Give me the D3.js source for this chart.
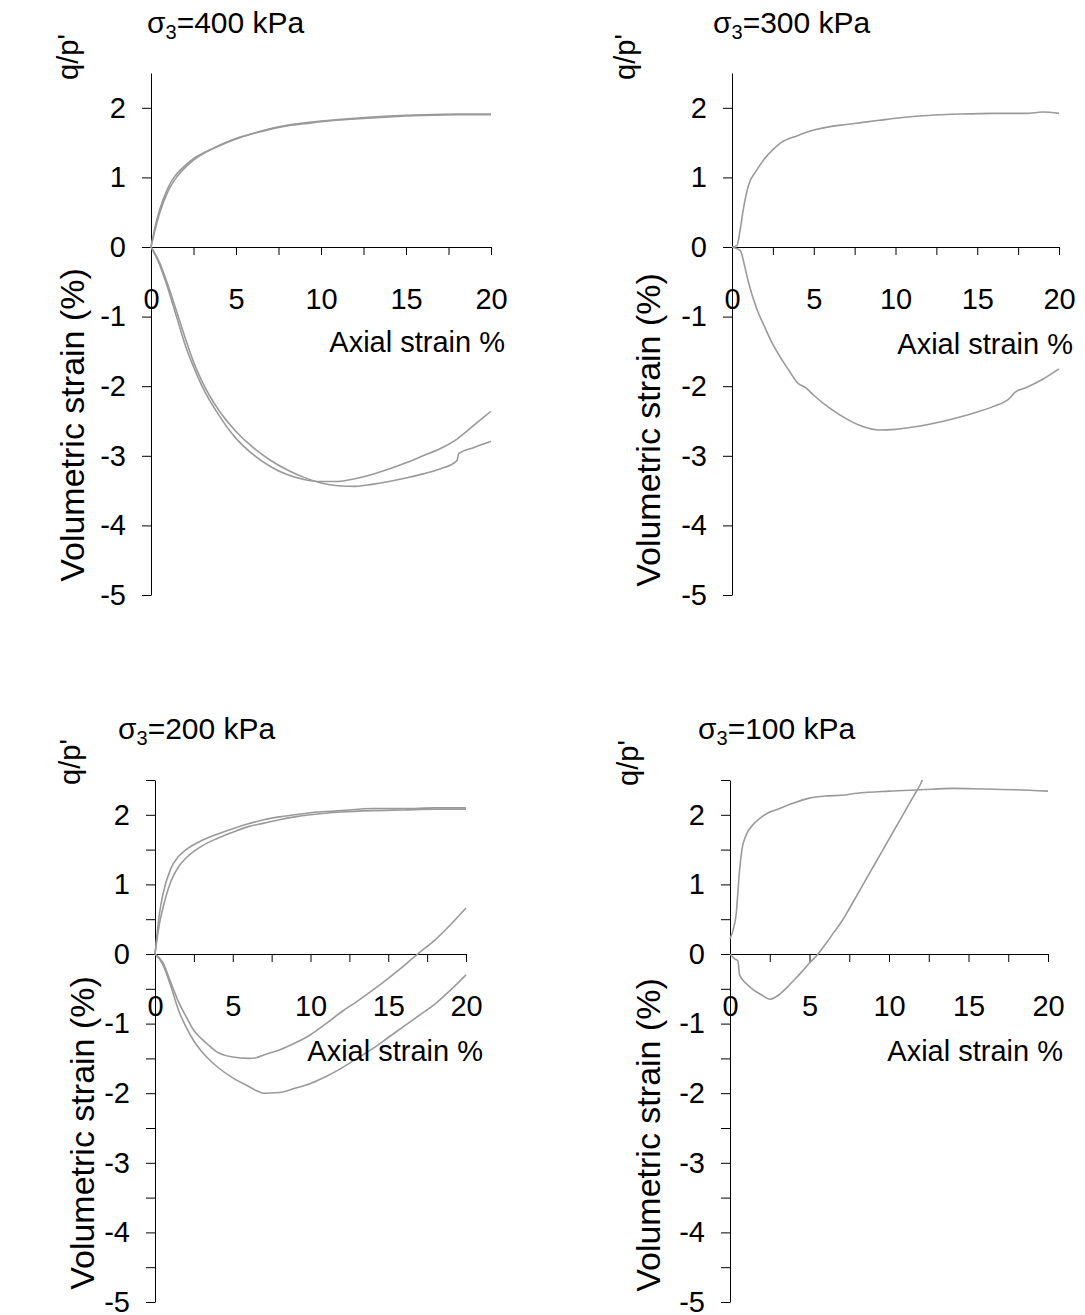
<!DOCTYPE html>
<html><head><meta charset="utf-8">
<script src="https://cdn.jsdelivr.net/npm/d3@7"></script>
<style>
body{margin:0;background:#fff}
svg{display:block}
text{font-family:"Liberation Sans",Arial,sans-serif;fill:#000}
</style>
</head><body>
<svg id="c" width="1085" height="1315"></svg>
<script>
// ---------------- data ----------------
const pressures = ["400", "300", "200", "100"];
const xMajorTicks = [0, 5, 10, 15, 20];
const yMajorTicks = [-5, -4, -3, -2, -1, 0, 1, 2];
const xLabel = "Axial strain %";
const qLabel = "q/p'";
const vLabel = "Volumetric strain (%)";

// sigma3 = 400 kPa
const s400_qA_x = [0, 0.25, 0.5, 1, 1.35, 2, 2.5, 3, 4, 5, 6, 7, 8, 9, 10, 12, 14, 16, 18, 20];
const s400_qA_y = [0, 0.3, 0.53, 0.85, 1.0, 1.17, 1.27, 1.34, 1.46, 1.56, 1.63, 1.69, 1.74, 1.77, 1.8, 1.84, 1.87, 1.89, 1.9, 1.9];
const s400_qB_x = [0, 0.5, 1, 1.5, 2, 2.5, 3, 4, 5, 6, 7, 8, 10, 12, 14, 16, 18, 20];
const s400_qB_y = [0, 0.48, 0.8, 1.0, 1.14, 1.25, 1.33, 1.45, 1.55, 1.63, 1.7, 1.75, 1.81, 1.85, 1.88, 1.9, 1.91, 1.91];
const s400_vA_x = [0, 0.5, 1, 1.5, 2, 2.5, 3, 4, 5, 6, 7, 8, 9, 10, 11, 12, 13, 14, 15, 16, 17, 18, 19, 20];
const s400_vA_y = [0, -0.25, -0.6, -1.0, -1.4, -1.72, -2.0, -2.42, -2.75, -2.98, -3.15, -3.27, -3.34, -3.37, -3.37, -3.33, -3.27, -3.19, -3.1, -3.0, -2.9, -2.76, -2.56, -2.36];
const s400_vB_x = [0, 0.5, 1, 1.5, 2, 2.5, 3, 4, 5, 6, 7, 8, 9, 10, 11, 12, 13, 14, 15, 16, 17, 18, 18.1, 19, 20];
const s400_vB_y = [0, -0.22, -0.55, -0.92, -1.3, -1.65, -1.93, -2.35, -2.65, -2.88, -3.06, -3.2, -3.31, -3.39, -3.43, -3.44, -3.41, -3.37, -3.32, -3.26, -3.19, -3.07, -2.97, -2.88, -2.79];

// sigma3 = 300 kPa
const s300_q_x = [0, 0.3, 0.5, 0.7, 1, 1.5, 2, 2.5, 3, 4, 5, 6, 7, 8, 9, 10, 12, 14, 16, 18, 19, 20];
const s300_q_y = [0, 0.02, 0.25, 0.55, 0.88, 1.1, 1.27, 1.4, 1.5, 1.6, 1.68, 1.73, 1.76, 1.79, 1.82, 1.85, 1.89, 1.91, 1.92, 1.92, 1.94, 1.92];
const s300_v_x = [0, 0.5, 0.8, 1, 1.5, 2, 2.5, 3, 3.5, 4, 4.5, 5, 6, 7, 8, 9, 10, 11, 12, 13, 14, 15, 16, 17, 17.3, 18, 19, 20];
const s300_v_y = [0, -0.05, -0.3, -0.5, -0.88, -1.15, -1.4, -1.6, -1.78, -1.95, -2.02, -2.13, -2.32, -2.47, -2.58, -2.63, -2.62, -2.59, -2.55, -2.5, -2.44, -2.37, -2.29, -2.17, -2.09, -2.02, -1.9, -1.75];

// sigma3 = 200 kPa
const s200_qA_x = [0, 0.3, 0.5, 1, 1.5, 2, 3, 4, 5, 6, 7, 8, 9, 10, 12, 14, 16, 18, 20];
const s200_qA_y = [0, 0.6, 0.85, 1.22, 1.4, 1.5, 1.63, 1.72, 1.8, 1.87, 1.93, 1.97, 2.0, 2.03, 2.06, 2.09, 2.09, 2.1, 2.1];
const s200_qB_y = [0, 0.45, 0.65, 1.03, 1.25, 1.38, 1.55, 1.66, 1.75, 1.83, 1.88, 1.93, 1.97, 2.0, 2.04, 2.06, 2.07, 2.08, 2.08];
const s200_v_x = [0, 0.5, 1, 1.5, 2, 2.5, 3, 3.5, 4, 5, 6, 6.5, 7, 8, 9, 10, 11, 12, 13, 14, 15, 16, 17, 18, 19, 20];
const s200_vA_y = [0, -0.12, -0.4, -0.68, -0.9, -1.1, -1.22, -1.32, -1.41, -1.48, -1.5, -1.49, -1.45, -1.38, -1.28, -1.16, -1.0, -0.83, -0.68, -0.52, -0.35, -0.17, 0.02, 0.2, 0.42, 0.66];
const s200_vB_y = [0, -0.15, -0.45, -0.8, -1.05, -1.25, -1.4, -1.52, -1.62, -1.78, -1.9, -1.96, -2.0, -1.99, -1.93, -1.86, -1.76, -1.64, -1.5, -1.36, -1.2, -1.04, -0.88, -0.72, -0.52, -0.3];

// sigma3 = 100 kPa
const s100_q_x = [0, 0.2, 0.4, 0.5, 0.6, 0.75, 1, 1.5, 2, 2.5, 3, 4, 5, 6, 7, 8, 10, 12, 14, 16, 18, 20];
const s100_q_y = [0.22, 0.35, 0.6, 0.9, 1.2, 1.5, 1.7, 1.87, 1.97, 2.04, 2.08, 2.17, 2.24, 2.27, 2.28, 2.31, 2.34, 2.36, 2.38, 2.37, 2.36, 2.34];
const s100_v_x = [0, 0.3, 0.5, 0.6, 1, 1.5, 2, 2.5, 3, 3.5, 4, 4.5, 5, 5.5, 6, 6.5, 7, 7.5, 8, 8.5, 9, 9.5, 10, 10.5, 11, 11.5, 12, 12.1];
const s100_v_y = [0, -0.07, -0.1, -0.3, -0.42, -0.52, -0.59, -0.65, -0.6, -0.5, -0.38, -0.26, -0.13, -0.01, 0.14, 0.3, 0.46, 0.65, 0.85, 1.05, 1.25, 1.45, 1.65, 1.85, 2.05, 2.25, 2.45, 2.5];

const panelSeries = [
  [[s400_qA_x, s400_qA_y], [s400_qB_x, s400_qB_y], [s400_vA_x, s400_vA_y], [s400_vB_x, s400_vB_y]],
  [[s300_q_x, s300_q_y], [s300_v_x, s300_v_y]],
  [[s200_qA_x, s200_qA_y], [s200_qA_x, s200_qB_y], [s200_v_x, s200_vA_y], [s200_v_x, s200_vB_y]],
  [[s100_q_x, s100_q_y], [s100_v_x, s100_v_y]]
];

// ---------------- layout ----------------
const layout = [
  {x0: 151, x1: 491, yTop: 73, yBot: 595, minor: false, title: [147, 33], q: [68, 57], v: [72, 425], ax: [505, 352]},
  {x0: 732, x1: 1059, yTop: 73, yBot: 595, minor: false, title: [713, 33], q: [625, 57], v: [648, 430], ax: [1073, 354]},
  {x0: 155, x1: 466, yTop: 780, yBot: 1302, minor: true, title: [118, 739], q: [70, 762], v: [82, 1133], ax: [483, 1061]},
  {x0: 730, x1: 1048, yTop: 780, yBot: 1302, minor: true, title: [698, 739], q: [628, 763], v: [648, 1135], ax: [1063, 1061]}
];

const svg = d3.select("#c");
const FS = 29;

layout.forEach((L, i) => {
  const x = d3.scaleLinear().domain([0, 20]).range([L.x0, L.x1]);
  const y = d3.scaleLinear().domain([-5, 2.5]).range([L.yBot, L.yTop]);
  const g = svg.append("g");

  const yTicks = L.minor ? d3.range(-5, 2.51, 0.5) : yMajorTicks;
  const yAxis = d3.axisLeft(y).tickValues(yTicks).tickSize(9).tickSizeOuter(0).tickPadding(16)
    .tickFormat(d => Number.isInteger(d) ? String(d) : "");
  g.append("g").attr("transform", `translate(${L.x0},0)`).call(yAxis)
    .call(a => a.selectAll("text").style("font-size", FS + "px").attr("font-family", null));

  const xAxis = d3.axisBottom(x).tickValues(d3.range(0, 20.01, 2.5)).tickSize(8).tickSizeOuter(0)
    .tickFormat(d => xMajorTicks.includes(d) ? String(d) : "");
  g.append("g").attr("transform", `translate(0,${y(0)})`).call(xAxis)
    .call(a => a.selectAll("text").style("font-size", FS + "px").attr("font-family", null).attr("y", 62).attr("dy", null));

  const line = d3.line().x(d => x(d[0])).y(d => y(d[1])).curve(d3.curveMonotoneX);
  panelSeries[i].forEach(([xs, ys]) => {
    g.append("path").datum(xs.map((v, k) => [v, ys[k]]))
      .attr("d", line).attr("fill", "none").attr("stroke", "#9a9a9a").attr("stroke-width", 1.6);
  });

  const t = g.append("text").attr("x", L.title[0]).attr("y", L.title[1]).style("font-size", "30px");
  t.append("tspan").text("σ");
  t.append("tspan").text("3").style("font-size", "20px").attr("dy", 6);
  t.append("tspan").text("=" + pressures[i] + " kPa").attr("dy", -6);

  g.append("text").attr("transform", `translate(${L.q[0]},${L.q[1]}) rotate(-90)`)
    .attr("text-anchor", "middle").attr("dy", "0.35em").style("font-size", FS + "px").text(qLabel);
  g.append("text").attr("transform", `translate(${L.v[0]},${L.v[1]}) rotate(-90)`)
    .attr("text-anchor", "middle").attr("dy", "0.35em").style("font-size", "34px").text(vLabel);
  g.append("text").attr("x", L.ax[0]).attr("y", L.ax[1]).attr("text-anchor", "end")
    .style("font-size", FS + "px").text(xLabel);
});
</script>
</body></html>
